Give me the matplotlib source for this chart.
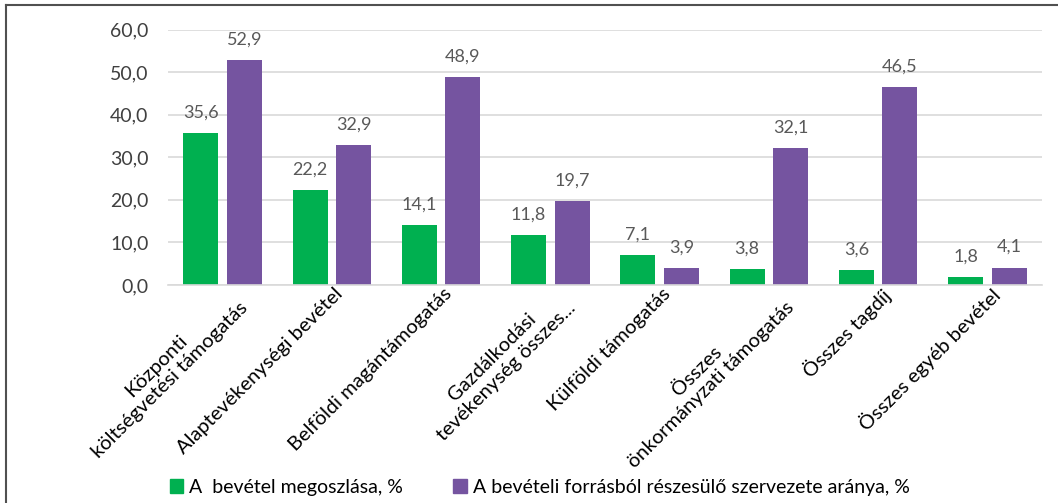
import numpy as np
import matplotlib.pyplot as plt
from matplotlib.patches import Rectangle
from matplotlib.lines import Line2D

# data
categories = ["Központi\nköltségvetési támogatás",
              "Alaptevékenységi bevétel",
              "Belföldi magántámogatás",
              "Gazdálkodási\ntevékenység összes...",
              "Külföldi támogatás",
              "Összes\nönkormányzati támogatás",
              "Összes tagdíj",
              "Összes egyéb bevétel"]
megoszlas = [35.6, 22.2, 14.1, 11.8, 7.1, 3.8, 3.6, 1.8]
arany = [52.9, 32.9, 48.9, 19.7, 3.9, 32.1, 46.5, 4.1]
series_names = ["A  bevétel megoszlása, %",
                "A bevételi forrásból részesülő szervezete aránya, %"]

green = "#00B050"
purple = "#7554A0"
txt = "#404040"
plt.rcParams['font.family'] = ['Lato', 'DejaVu Sans']

fig = plt.figure(figsize=(10.58, 5.03), dpi=100)
ax = fig.add_axes([168/1058, 1-285/503, 874/1058, 255.5/503])

x = np.arange(len(categories))
w = 0.32
b1 = ax.bar(x - 0.2, megoszlas, w, color=green)
b2 = ax.bar(x + 0.2, arany, w, color=purple)

def fmt(v):
    return ("%.1f" % v).replace(".", ",")

for bars in (b1, b2):
    for r in bars:
        ax.annotate(fmt(r.get_height()), (r.get_x() + r.get_width()/2, r.get_height()),
                    xytext=(0, 9), textcoords="offset points", ha="center", va="bottom",
                    fontsize=13, color="#595959")

ax.set_xlim(-0.5, len(categories) - 0.5)
ax.set_ylim(0, 60)
ax.set_yticks(np.arange(0, 61, 10))
ax.set_yticklabels([fmt(v) for v in np.arange(0, 61, 10)], fontsize=14, color=txt)
ax.yaxis.grid(True, color="#D9D9D9", lw=1.2)
ax.set_axisbelow(True)
for s in ["top", "right", "left"]:
    ax.spines[s].set_visible(False)
ax.spines["bottom"].set_color("#D9D9D9")
ax.spines["bottom"].set_linewidth(1.2)
ax.tick_params(axis="both", length=0)
ax.tick_params(axis="y", pad=14)

ax.set_xticks(x + 0.02)
labs = ax.set_xticklabels(categories, rotation=45, ha="right", rotation_mode="anchor",
                          fontsize=14.5, color="black", multialignment="center")
for t in labs:
    t.set_linespacing(1.2)
ax.tick_params(axis="x", pad=0)

# legend
handles = [Rectangle((0, 0), 1, 1, color=green), Rectangle((0, 0), 1, 1, color=purple)]
fig.legend(handles, series_names, loc="lower left", bbox_to_anchor=(152/1058, -0.02),
           ncol=2, frameon=False, fontsize=14, handlelength=0.7, handleheight=0.7,
           handletextpad=0.3, columnspacing=2.6, labelcolor="black")

# frame lines (top and left)
fig.add_artist(Line2D([6/1058, 1], [1-5/503, 1-5/503], color="#505050", lw=1.5))
fig.add_artist(Line2D([6/1058, 6/1058], [0, 1-5/503], color="#505050", lw=1.5))

fig.savefig("out.png", dpi=100)
